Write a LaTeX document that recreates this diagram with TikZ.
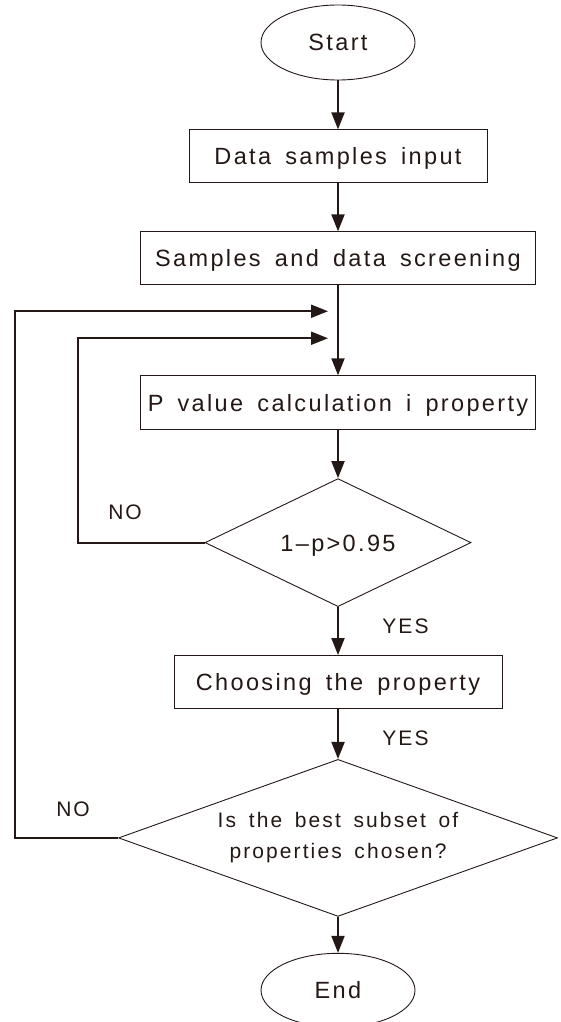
\documentclass[tikz,border=0pt]{standalone}
\usepackage{fontspec}
\setmainfont{Liberation Sans}[LetterSpace=10,WordSpace=1.6]
\usepackage{tikz}
\usetikzlibrary{
  arrows.meta,
  calc,
  positioning,
  shapes.geometric,
}
\definecolor{ink}{RGB}{35,24,21}
\tikzstyle{flow} = [
  -{Triangle[length=17pt,width=13pt]},
  line width=1.9pt,
  ink,
]
\tikzstyle{proc} = [
  rectangle,
  draw=ink,
  line width=0.9pt,
  minimum height=53,
  inner sep=0pt,
  text height=16.8pt,
  text depth=0pt,
]
\tikzstyle{lbl} = [
  font=\fontsize{21}{25}\selectfont,
  text height=15pt,
  text depth=0pt,
  inner sep=0pt,
]

\begin{document}
\begin{tikzpicture}[x=1pt,y=1pt,node distance=48pt and 0pt,
    every node/.style={font=\fontsize{23.5}{28}\selectfont,text=ink}]
      \useasboundingbox (0,0) rectangle (560,-1022);

      \node[ellipse,draw=ink,line width=0.9pt,minimum width=154,minimum height=75,inner sep=0pt,
        text height=16.8pt,text depth=0pt] (start) at (338,-42.5) {Start};
      \node[proc,minimum width=298] (inp1)  [below=49pt of start] {Data samples input};
      \node[proc,minimum width=395] (scr1)  [below=of inp1]       {Samples and data screening};
      \node[proc,minimum width=395,minimum height=54] (pval1) [below=90pt of scr1] {P value calculation i property};

      \node[diamond,draw=ink,line width=0.9pt,aspect=2,inner sep=0pt,minimum width=266,minimum height=128,
        text height=16.8pt,text depth=0pt] (dec1) [below=of pval1] {1–p>0.95};
      \node[proc,minimum width=328] (cho1)  [below=of dec1]       {Choosing the property};
      \node[diamond,draw=ink,line width=0.9pt,aspect=2.8,inner sep=0pt,minimum width=439,minimum height=157,
        align=center,font=\fontsize{21}{31}\selectfont] (dec2) [below=50pt of cho1]
        {Is the best subset of\\properties chosen?};
      \node[ellipse,draw=ink,line width=0.9pt,minimum width=154,minimum height=74,inner sep=0pt,
        text height=16.8pt,text depth=0pt] (end1) [below=36pt of dec2] {End};

      \node[lbl] (no1)  at ($(dec1.west)+(-79.5,31)$)  {NO};
      \node[lbl] (no2)  at ($(dec2.west)+(-45,28.5)$)  {NO};
      \node[lbl] (yes1) at ($(dec1.south)+(67.5,-19)$) {YES};
      \node[lbl] (yes2) at ($(cho1.south)+(67.5,-29)$) {YES};

      \coordinate (join1) at ($(scr1.south)+(-10,-26)$);
      \coordinate (join2) at ($(scr1.south)+(-10,-53)$);

      \draw[flow] (start.south) -- (inp1.north);
      \draw[flow] (inp1.south)  -- (scr1.north);
      \draw[flow] (scr1.south)  -- (pval1.north);
      \draw[flow] (pval1.south) -- (dec1.north);
      \draw[flow] (dec1.south)  -- (cho1.north);
      \draw[flow] (cho1.south)  -- (dec2.north);
      \draw[flow] (dec2.south)  -- (end1.north);

      \draw[flow] (dec1.west) -- ++(-127,0) |- (join2);
      \draw[flow] (dec2.west) -- ++(-103,0) |- (join1);
    \end{tikzpicture}
\end{document}
